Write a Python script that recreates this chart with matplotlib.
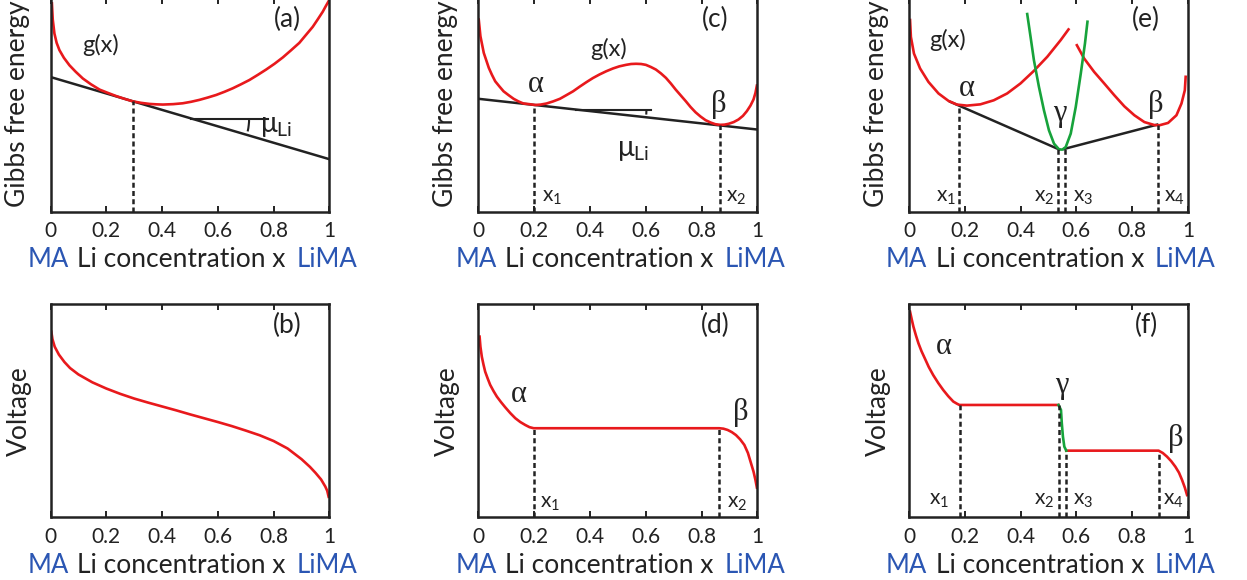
import numpy as np
import matplotlib
matplotlib.use("Agg")
import matplotlib.pyplot as plt
from matplotlib.patches import Arc

plt.rcParams['font.family'] = ['Lato', 'DejaVu Sans']
plt.rcParams['mathtext.fontset'] = 'custom'
plt.rcParams['mathtext.rm'] = 'Lato'
plt.rcParams['mathtext.it'] = 'Lato:italic'

RED = '#e8191c'
GREEN = '#17a33b'
BLUE = '#2b56b3'
INK = '#222222'
GREEK = ['Liberation Serif', 'DejaVu Serif']

# ---- values (x = Li concentration, y = arbitrary units 0..1) ----
# (a) single phase free energy
a_gx = [0.005, 0.008, 0.014, 0.022, 0.032, 0.048, 0.068, 0.090, 0.116, 0.145, 0.176,
        0.205, 0.235, 0.265, 0.295, 0.325, 0.355, 0.380, 0.403, 0.440, 0.474, 0.504,
        0.534, 0.564, 0.594, 0.624, 0.653, 0.683, 0.713, 0.743, 0.773, 0.803, 0.833,
        0.862, 0.892, 0.915, 0.940, 0.958, 0.976, 0.986, 0.996]
a_gy = [0.975, 0.900, 0.834, 0.790, 0.756, 0.720, 0.685, 0.655, 0.623, 0.596, 0.571,
        0.556, 0.541, 0.528, 0.516, 0.509, 0.504, 0.502, 0.501, 0.503, 0.507, 0.514,
        0.523, 0.534, 0.546, 0.561, 0.577, 0.596, 0.616, 0.640, 0.665, 0.692, 0.722,
        0.755, 0.790, 0.826, 0.865, 0.900, 0.936, 0.960, 0.983]
a_tan_x = [0.0, 1.0]
a_tan_y = [0.630, 0.245]
a_xt, a_xt_top = 0.295, 0.516
a_slope_x = [0.504, 0.779]
a_slope_y = 0.435

# (b) voltage, single phase
b_x = [0.003, 0.007, 0.015, 0.030, 0.050, 0.070, 0.100, 0.150, 0.200, 0.250, 0.300,
       0.350, 0.400, 0.450, 0.500, 0.550, 0.600, 0.650, 0.700, 0.750, 0.800, 0.850,
       0.900, 0.930, 0.950, 0.970, 0.985, 0.992, 0.997]
b_v = [0.870, 0.835, 0.800, 0.763, 0.728, 0.700, 0.670, 0.633, 0.604, 0.579, 0.557,
       0.538, 0.520, 0.502, 0.483, 0.465, 0.447, 0.428, 0.407, 0.385, 0.358, 0.323,
       0.273, 0.237, 0.209, 0.178, 0.145, 0.125, 0.097]

# (c) two phase free energy
c_gx = [0.001, 0.004, 0.007, 0.013, 0.019, 0.028, 0.037, 0.048, 0.060, 0.075, 0.090, 0.108,
        0.126, 0.143, 0.161, 0.182, 0.203, 0.223, 0.244, 0.268, 0.292, 0.315, 0.339, 0.363,
        0.387, 0.410, 0.434, 0.458, 0.482, 0.505, 0.529, 0.547, 0.565, 0.583, 0.600, 0.618,
        0.636, 0.654, 0.672, 0.690, 0.707, 0.725, 0.743, 0.760, 0.778, 0.796, 0.814, 0.832,
        0.849, 0.867, 0.882, 0.897, 0.915, 0.932, 0.948, 0.962, 0.975, 0.986, 0.993, 0.998]
c_gy = [0.899, 0.860, 0.821, 0.782, 0.743, 0.708, 0.673, 0.641, 0.610, 0.586, 0.563, 0.545,
        0.528, 0.516, 0.506, 0.503, 0.499, 0.501, 0.506, 0.516, 0.528, 0.545, 0.563, 0.585,
        0.606, 0.625, 0.642, 0.657, 0.670, 0.680, 0.687, 0.691, 0.692, 0.691, 0.687, 0.677,
        0.665, 0.647, 0.626, 0.599, 0.571, 0.544, 0.517, 0.490, 0.465, 0.445, 0.428, 0.417,
        0.409, 0.406, 0.407, 0.411, 0.419, 0.431, 0.448, 0.470, 0.496, 0.525, 0.556, 0.590]
c_tan_x = [0.0, 1.0]
c_tan_y = [0.528, 0.384]
c_xs = [0.200, 0.865]
c_xs_top = [0.499, 0.403]
c_slope_x = [0.351, 0.620]
c_slope_y = 0.476

# (d) voltage, two phase
d_x = [0.004, 0.007, 0.012, 0.018, 0.024, 0.033, 0.042, 0.054, 0.066, 0.081, 0.096,
       0.114, 0.132, 0.150, 0.168, 0.183, 0.198, 0.863, 0.878, 0.893, 0.908, 0.923,
       0.938, 0.953, 0.966, 0.977, 0.986, 0.993, 0.998]
d_v = [0.847, 0.800, 0.753, 0.716, 0.683, 0.651, 0.621, 0.592, 0.566, 0.540, 0.516,
       0.489, 0.465, 0.447, 0.433, 0.423, 0.418, 0.418, 0.416, 0.410, 0.400, 0.386,
       0.366, 0.340, 0.302, 0.254, 0.215, 0.175, 0.140]
d_xs = [0.200, 0.863]
d_xs_top = [0.418, 0.418]

# (e) three phases
e_ax = [0.004, 0.007, 0.018, 0.040, 0.070, 0.106, 0.142, 0.172, 0.208, 0.256, 0.304,
        0.352, 0.400, 0.448, 0.496, 0.544, 0.572]
e_ay = [0.897, 0.818, 0.740, 0.670, 0.607, 0.553, 0.518, 0.501, 0.496, 0.502, 0.521,
        0.553, 0.600, 0.659, 0.725, 0.803, 0.853]
e_bx = [0.602, 0.628, 0.664, 0.700, 0.736, 0.772, 0.808, 0.844, 0.880, 0.898, 0.929,
        0.959, 0.977, 0.989, 0.992]
e_by = [0.779, 0.717, 0.654, 0.600, 0.545, 0.493, 0.451, 0.419, 0.405, 0.404, 0.415,
        0.451, 0.506, 0.568, 0.631]
e_gx = [0.424, 0.436, 0.448, 0.466, 0.484, 0.502, 0.520, 0.538, 0.550, 0.562, 0.580,
        0.598, 0.616, 0.631, 0.640]
e_gy = [0.925, 0.818, 0.709, 0.584, 0.474, 0.380, 0.318, 0.291, 0.290, 0.302, 0.365,
        0.490, 0.646, 0.787, 0.889]
e_tan1_x = [0.148, 0.538]
e_tan1_y = [0.514, 0.291]
e_tan2_x = [0.556, 0.890]
e_tan2_y = [0.293, 0.407]
e_xs = [0.181, 0.536, 0.560, 0.893]
e_xs_top = [0.495, 0.291, 0.291, 0.406]

# (f) voltage, three phases
f_ax = [0.004, 0.010, 0.016, 0.025, 0.034, 0.045, 0.057, 0.071, 0.087, 0.105, 0.123,
        0.141, 0.159, 0.172, 0.181, 0.536]
f_av = [0.964, 0.928, 0.894, 0.853, 0.816, 0.779, 0.745, 0.705, 0.667, 0.630, 0.597,
        0.568, 0.543, 0.533, 0.527, 0.527]
f_gx = [0.536, 0.545, 0.548, 0.552, 0.557, 0.564]
f_gv = [0.527, 0.504, 0.441, 0.379, 0.332, 0.313]
f_bx = [0.564, 0.895, 0.910, 0.925, 0.940, 0.955, 0.968, 0.979, 0.989, 0.997]
f_bv = [0.313, 0.313, 0.302, 0.285, 0.264, 0.238, 0.210, 0.176, 0.140, 0.105]
f_xs = [0.183, 0.537, 0.563, 0.895]
f_xs_top = [0.527, 0.527, 0.313, 0.313]

ticks = [0, 0.2, 0.4, 0.6, 0.8, 1]
tick_labels = ['0', '0.2', '0.4', '0.6', '0.8', '1']

fig = plt.figure(figsize=(12.47, 5.8), dpi=100)
lefts = [0.0405, 0.3837, 0.7289]
bottoms = [0.6353, 0.1078]
W, H = 0.2237, 0.3681

DASH = (0, (2.0, 1.3))
LW = 1.9


def setup(ax, ylabel, tag):
    ax.set_xlim(0, 1)
    ax.set_ylim(0, 1)
    ax.set_xticks(ticks)
    ax.set_xticklabels(tick_labels)
    ax.set_yticks([])
    ax.tick_params(axis='x', direction='in', top=True, length=4.5, width=1.4,
                   labelsize=15, pad=6.5, colors=INK)
    for s in ax.spines.values():
        s.set_linewidth(1.8)
        s.set_color(INK)
    tr = ax.transAxes
    ax.text(-0.082, -0.225, 'MA', color=BLUE, fontsize=18.5, ha='left', va='center', transform=tr)
    ax.text(0.47, -0.225, 'Li concentration x', color=INK, fontsize=19,
            ha='center', va='center', transform=tr)
    ax.text(1.10, -0.225, 'LiMA', color=BLUE, fontsize=18.5, ha='right', va='center', transform=tr)
    if ylabel == 'Voltage':
        ax.text(-0.11, 0.5, ylabel, rotation=90, fontsize=19, color=INK,
                ha='center', va='center', transform=tr)
    else:
        ax.text(-0.118, 0.02, ylabel, rotation=90, fontsize=19, color=INK,
                ha='center', va='bottom', transform=tr)
    ax.text(0.85, 0.90, tag, fontsize=19, color=INK, ha='center', va='center', transform=tr)


def vdash(ax, xs, tops):
    for x, top in zip(xs, tops):
        ax.plot([x, x], [0, top], color=INK, lw=1.8, ls=DASH)


def slope_arc(ax, x0, y0, r_px, theta_deg):
    bb = ax.get_window_extent()
    w = 2 * r_px / bb.width
    h = 2 * r_px / bb.height
    ax.add_patch(Arc((x0, y0), w, h, theta1=-theta_deg, theta2=0, color=INK, lw=1.5))


def xsub(ax, xs, y):
    for n, x in enumerate(xs, start=1):
        ax.text(x, y, r'x$_{%d}$' % n, fontsize=15, color=INK, ha='center', va='center')


def greek(ax, x, y, s):
    ax.text(x, y, s, family=GREEK, fontsize=22, color=INK, ha='center', va='center')


# (a)
ax = fig.add_axes([lefts[0], bottoms[0], W, H])
setup(ax, 'Gibbs free energy', '(a)')
ax.plot(a_tan_x, a_tan_y, color=INK, lw=1.8)
ax.plot(a_gx, a_gy, color=RED, lw=LW)
vdash(ax, [a_xt], [a_xt_top])
ax.plot(a_slope_x, [a_slope_y, a_slope_y], color=INK, lw=1.5)
slope_arc(ax, a_slope_x[0], a_slope_y, 58, 16.4)
ax.text(0.18, 0.78, 'g(x)', fontsize=17, color=INK, ha='center', va='center')
ax.text(0.81, 0.40, r'μ$_{\mathrm{Li}}$', fontsize=20, color=INK, ha='center', va='center')

# (b)
ax = fig.add_axes([lefts[0], bottoms[1], W, H])
setup(ax, 'Voltage', '(b)')
ax.plot(b_x, b_v, color=RED, lw=LW)

# (c)
ax = fig.add_axes([lefts[1], bottoms[0], W, H])
setup(ax, 'Gibbs free energy', '(c)')
ax.plot(c_tan_x, c_tan_y, color=INK, lw=1.8)
ax.plot(c_gx, c_gy, color=RED, lw=LW)
vdash(ax, c_xs, c_xs_top)
ax.plot(c_slope_x, [c_slope_y, c_slope_y], color=INK, lw=1.5)
slope_arc(ax, c_slope_x[0], c_slope_y, 70, 5)
greek(ax, 0.206, 0.595, 'α')
greek(ax, 0.861, 0.50, 'β')
ax.text(0.466, 0.763, 'g(x)', fontsize=17, color=INK, ha='center', va='center')
ax.text(0.555, 0.286, r'μ$_{\mathrm{Li}}$', fontsize=20, color=INK, ha='center', va='center')
xsub(ax, [0.263, 0.925], 0.066)

# (d)
ax = fig.add_axes([lefts[1], bottoms[1], W, H])
setup(ax, 'Voltage', '(d)')
ax.plot(d_x, d_v, color=RED, lw=LW)
vdash(ax, d_xs, d_xs_top)
greek(ax, 0.144, 0.574, 'α')
greek(ax, 0.941, 0.49, 'β')
xsub(ax, [0.258, 0.926], 0.066)

# (e)
ax = fig.add_axes([lefts[2], bottoms[0], W, H])
setup(ax, 'Gibbs free energy', '(e)')
ax.plot(e_tan1_x, e_tan1_y, color=INK, lw=1.8)
ax.plot(e_tan2_x, e_tan2_y, color=INK, lw=1.8)
ax.plot(e_ax, e_ay, color=RED, lw=LW)
ax.plot(e_bx, e_by, color=RED, lw=LW)
ax.plot(e_gx, e_gy, color=GREEN, lw=LW)
vdash(ax, e_xs, e_xs_top)
ax.text(0.139, 0.803, 'g(x)', fontsize=17, color=INK, ha='center', va='center')
greek(ax, 0.208, 0.576, 'α')
greek(ax, 0.542, 0.46, 'γ')
greek(ax, 0.885, 0.502, 'β')
xsub(ax, [0.133, 0.486, 0.625, 0.95], 0.066)

# (f)
ax = fig.add_axes([lefts[2], bottoms[1], W, H])
setup(ax, 'Voltage', '(f)')
ax.plot(f_ax, f_av, color=RED, lw=LW)
ax.plot(f_bx, f_bv, color=RED, lw=LW)
ax.plot(f_gx, f_gv, color=GREEN, lw=LW)
vdash(ax, f_xs, f_xs_top)
greek(ax, 0.126, 0.80, 'α')
greek(ax, 0.548, 0.62, 'γ')
greek(ax, 0.955, 0.368, 'β')
xsub(ax, [0.108, 0.485, 0.623, 0.949], 0.082)

fig.savefig('out.png', dpi=100)
